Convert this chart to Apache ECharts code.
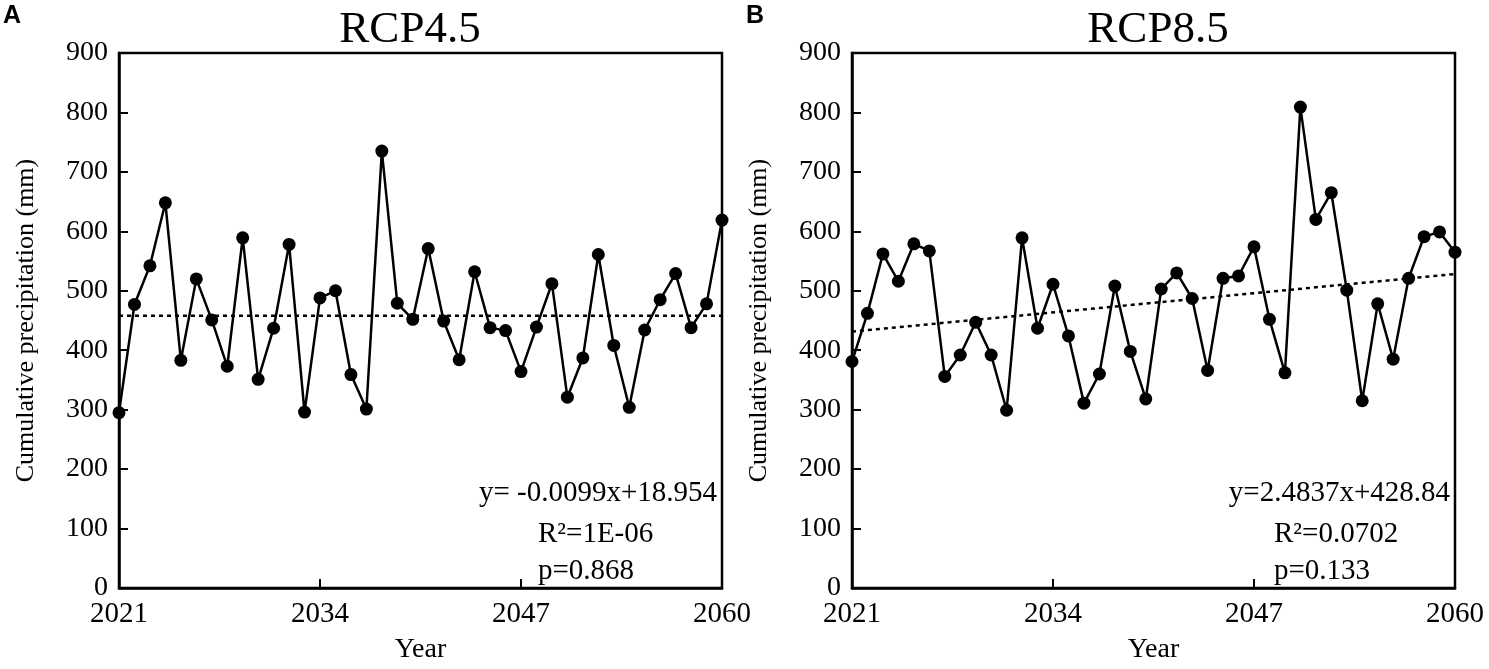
<!DOCTYPE html>
<html>
<head>
<meta charset="utf-8">
<title>Cumulative precipitation RCP4.5 / RCP8.5</title>
<script src="https://cdn.jsdelivr.net/npm/echarts@6/dist/echarts.min.js"></script>
<style>
  html, body { margin: 0; padding: 0; background: #fff; }
  #chart { width: 1489px; height: 669px; }
</style>
</head>
<body>
<div id="chart"></div>
<script>
// years 2021..2060
const years = ["2021","2022","2023","2024","2025","2026","2027","2028","2029","2030",
    "2031","2032","2033","2034","2035","2036","2037","2038","2039","2040",
    "2041","2042","2043","2044","2045","2046","2047","2048","2049","2050",
    "2051","2052","2053","2054","2055","2056","2057","2058","2059","2060"];

// cumulative precipitation (mm)
const rcp45 = [295, 477, 542, 648, 383, 520, 451, 373, 589, 351,
    437, 578, 296, 488, 500, 359, 301, 735, 479, 452,
    571, 449, 384, 532, 438, 433, 364, 439, 512, 321,
    387, 561, 408, 304, 434, 485, 529, 438, 478, 619];

const rcp85 = [381, 462, 562, 516, 579, 567, 356, 392, 447, 392,
    299, 589, 437, 511, 424, 311, 360, 508, 398, 318,
    503, 530, 487, 366, 521, 525, 574, 452, 362, 809,
    620, 665, 501, 315, 478, 385, 521, 591, 599, 565];

// fitted lines, value at 2021 and at 2060
const trendYears = ["2021", "2060"];
const trend45 = [458, 458];
const trend85 = [431.3, 528.2];

const titles = ["RCP4.5", "RCP8.5"];
const letters = ["A", "B"];
const eqText = [
    ["y= -0.0099x+18.954", "R\u00b2=1E-06", "p=0.868"],
    ["y=2.4837x+428.84", "R\u00b2=0.0702", "p=0.133"]
];

const serif = "Liberation Serif";

const makeXAxis = (gridIndex) => ({
    gridIndex: gridIndex,
    type: "category",
    data: years,
    boundaryGap: false,
    name: "Year",
    nameLocation: "middle",
    nameGap: 48,
    nameTextStyle: { fontFamily: serif, fontSize: 28, color: "#000" },
    axisLine: { lineStyle: { color: "#000", width: 2.5 } },
    axisTick: { inside: true, length: 9, interval: 12, lineStyle: { color: "#000", width: 2 } },
    axisLabel: { interval: 12, margin: 12, fontFamily: serif, fontSize: 29, color: "#000" },
    splitLine: { show: false }
});

const makeYAxis = (gridIndex) => ({
    gridIndex: gridIndex,
    type: "value",
    min: 0,
    max: 900,
    interval: 100,
    name: "Cumulative precipitation (mm)",
    nameLocation: "middle",
    nameGap: 80,
    nameTextStyle: { fontFamily: serif, fontSize: 26, color: "#000" },
    axisLine: { show: true, lineStyle: { color: "#000", width: 2.5 } },
    axisTick: { show: true, inside: true, length: 9, lineStyle: { color: "#000", width: 2 } },
    axisLabel: { margin: 11, fontFamily: serif, fontSize: 28, color: "#000" },
    splitLine: { show: false }
});

const dataSeries = (idx, values) => ({
    type: "line",
    xAxisIndex: idx,
    yAxisIndex: idx,
    data: values,
    symbol: "circle",
    symbolSize: 13,
    showSymbol: true,
    showAllSymbol: true,
    itemStyle: { color: "#000" },
    lineStyle: { color: "#000", width: 2.5 },
    z: 3
});

const trendSeries = (idx, ends) => ({
    type: "line",
    xAxisIndex: idx,
    yAxisIndex: idx,
    data: trendYears.map((y, i) => [y, ends[i]]),
    symbol: "none",
    lineStyle: { color: "#000", width: 2.5, type: [4, 4] },
    z: 2
});

const textEl = (x, y, text, size, align, family, weight) => ({
    type: "text",
    x: x,
    y: y,
    style: {
        text: text,
        fontFamily: family || serif,
        fontSize: size,
        fontWeight: weight || "normal",
        fill: "#000",
        align: align,
        verticalAlign: "middle"
    }
});

const option = {
    animation: false,
    backgroundColor: "#fff",
    grid: [
        { left: 119, right: 767, top: 53, bottom: 76, show: true, borderColor: "#000", borderWidth: 2.5 },
        { left: 852, right: 34, top: 53, bottom: 76, show: true, borderColor: "#000", borderWidth: 2.5 }
    ],
    xAxis: [makeXAxis(0), makeXAxis(1)],
    yAxis: [makeYAxis(0), makeYAxis(1)],
    series: [
        trendSeries(0, trend45),
        dataSeries(0, rcp45),
        trendSeries(1, trend85),
        dataSeries(1, rcp85)
    ],
    graphic: [
        textEl(3, 16, letters[0], 25, "left", "Liberation Sans", "bold"),
        textEl(746, 16, letters[1], 25, "left", "Liberation Sans", "bold"),
        textEl(410, 30, titles[0], 45, "center"),
        textEl(1158, 30, titles[1], 45, "center"),
        textEl(717, 493, eqText[0][0], 29, "right"),
        textEl(538, 534, eqText[0][1], 29, "left"),
        textEl(538, 571, eqText[0][2], 29, "left"),
        textEl(1450, 493, eqText[1][0], 29, "right"),
        textEl(1274, 534, eqText[1][1], 29, "left"),
        textEl(1274, 571, eqText[1][2], 29, "left")
    ]
};

const chart = echarts.init(document.getElementById("chart"));
chart.setOption(option);
</script>
</body>
</html>
